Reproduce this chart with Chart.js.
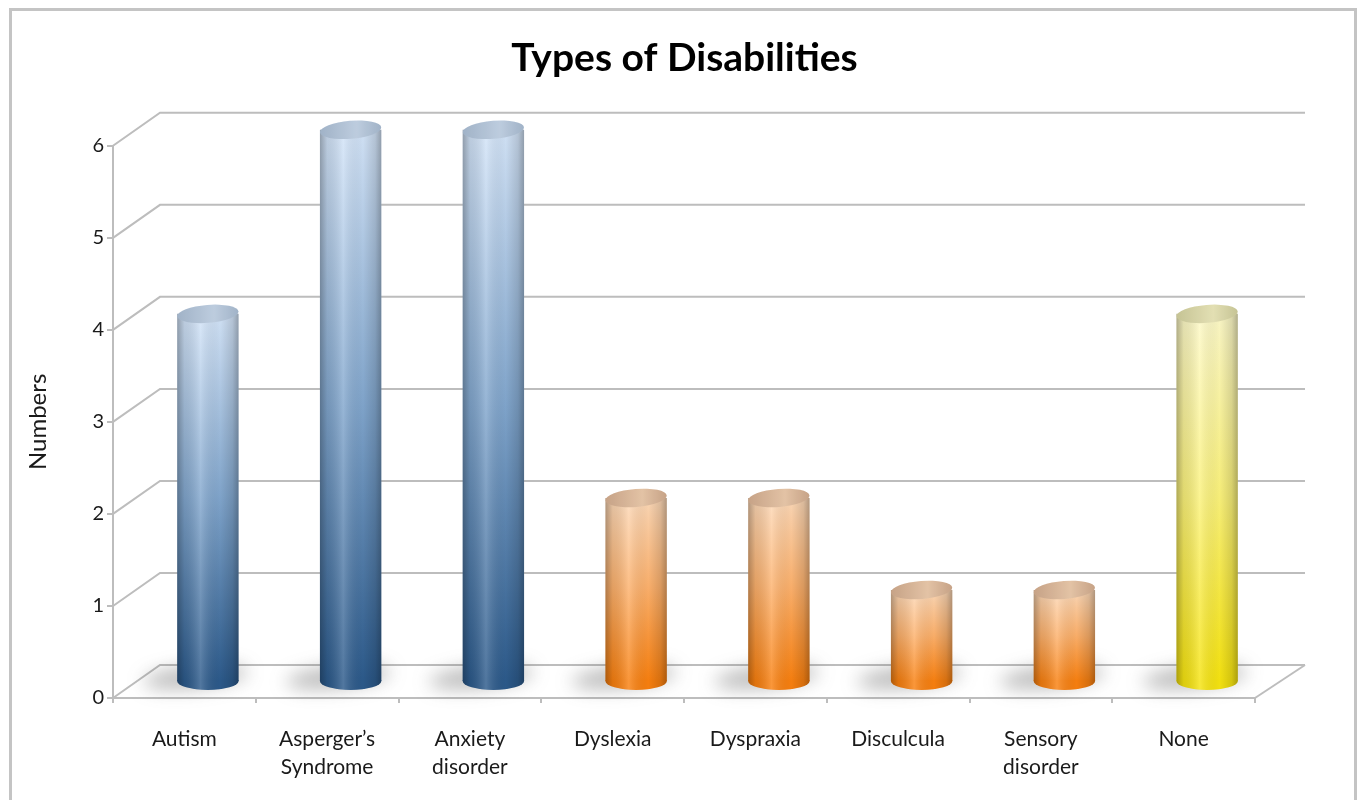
<!DOCTYPE html>
<html>
<head>
<meta charset="utf-8">
<script src="https://cdn.jsdelivr.net/npm/chart.js@4.4.0/dist/chart.umd.min.js"></script>
<style>
  html, body { margin: 0; padding: 0; background: #ffffff; }
  #wrap { width: 1358px; height: 800px; position: relative; }
</style>
</head>
<body>
<div id="wrap"><canvas id="c" width="1358" height="800"></canvas></div>
<script>
// ---- data ----
const categories = ["Autism", ["Asperger\u2019s", "Syndrome"], ["Anxiety", "disorder"], "Dyslexia", "Dyspraxia", "Disculcula", ["Sensory", "disorder"], "None"];
const values = [4, 6, 6, 2, 2, 1, 1, 4];
const colorGroup = ["blue", "blue", "blue", "orange", "orange", "orange", "orange", "yellow"];
const yTicks = [0, 1, 2, 3, 4, 5, 6];
const chartTitle = "Types of Disabilities";
const yTitle = "Numbers";

// ---- styles ----
const PALETTE = {
  blue:   { top: "#d3e4f8", mid: "#81a6cd", bottom: "#2c5a8b", cap: "#b3c7de" },
  orange: { top: "#fdd9b8", mid: "#fdb06a", bottom: "#f9800f", cap: "#ddb596" },
  yellow: { top: "#fdf9c8", mid: "#fbf27a", bottom: "#f6e410", cap: "#dcdaa6" }
};
const BAR_DX = 23.5, BAR_DY = -16;   // bar plane offset (half depth)
const WALL_DX = 47, WALL_DY = -33;   // back wall offset
const GRID_COLOR = "#bdbdbd";
const FONT = "Lato, 'Liberation Sans', sans-serif";

function barGradient(ctx) {
  const chart = ctx.chart;
  const i = ctx.dataIndex;
  const p = PALETTE[colorGroup[i]];
  const ys = chart.scales && chart.scales.y;
  if (!ys || !chart.chartArea) return p.mid;
  const top = ys.getPixelForValue(values[i]);
  const bot = ys.getPixelForValue(0);
  const g = chart.ctx.createLinearGradient(0, top, 0, bot);
  g.addColorStop(0, p.top);
  g.addColorStop(0.5, p.mid);
  g.addColorStop(1, p.bottom);
  return g;
}

const frame3d = {
  id: "frame3d",
  beforeDraw(chart) {
    const ctx = chart.ctx;
    ctx.save();
    ctx.strokeStyle = "#c4c4c4";
    ctx.lineWidth = 3;
    ctx.strokeRect(10.5, 9.5, chart.width - 13, chart.height + 20);
    ctx.restore();
  },
  beforeDatasetsDraw(chart) {
    const ctx = chart.ctx;
    const ys = chart.scales.y;
    const area = chart.chartArea;
    const wallRight = area.right + WALL_DX + 3;
    ctx.save();
    ctx.strokeStyle = GRID_COLOR;
    ctx.lineWidth = 2;
    yTicks.forEach(v => {
      const fy = ys.getPixelForValue(v);
      ctx.beginPath();
      ctx.moveTo(area.left, fy);
      ctx.lineTo(area.left + WALL_DX, fy + WALL_DY);
      ctx.lineTo(wallRight, fy + WALL_DY);
      ctx.stroke();
    });
    const by = ys.getPixelForValue(0);
    ctx.beginPath();
    ctx.moveTo(area.right, by);
    ctx.lineTo(wallRight, by + WALL_DY);
    ctx.stroke();
    ctx.restore();

    // floor shadows
    const meta = chart.getDatasetMeta(0);
    ctx.save();
    ctx.translate(BAR_DX, BAR_DY);
    meta.data.forEach(bar => {
      const w = bar.width;
      ctx.save();
      ctx.filter = "blur(9px)";
      ctx.fillStyle = "rgba(80,80,80,0.38)";
      ctx.beginPath();
      ctx.ellipse(bar.x - w * 0.2, bar.base - 4, w * 0.85, 11, -0.1, 0, Math.PI * 2);
      ctx.fill();
      ctx.restore();
    });
    ctx.save();
  },
  afterDatasetsDraw(chart) {
    const ctx = chart.ctx;
    ctx.restore(); // inner
    const meta = chart.getDatasetMeta(0);
    meta.data.forEach((bar, i) => {
      const p = PALETTE[colorGroup[i]];
      const w = bar.width, rx = w / 2, ry = 9;
      const l = bar.x - rx, r = bar.x + rx;
      // bottom half ellipse
      ctx.fillStyle = p.bottom;
      ctx.beginPath();
      ctx.moveTo(r, bar.base - 1);
      ctx.ellipse(bar.x, bar.base, rx, ry, 0, 0, Math.PI, false);
      ctx.lineTo(l, bar.base - 1);
      ctx.closePath();
      ctx.fill();
      // horizontal shading across body
      const hg = ctx.createLinearGradient(l, 0, r, 0);
      hg.addColorStop(0, "rgba(0,0,0,0.30)");
      hg.addColorStop(0.12, "rgba(0,0,0,0.10)");
      hg.addColorStop(0.38, "rgba(255,255,255,0.18)");
      hg.addColorStop(0.7, "rgba(0,0,0,0.02)");
      hg.addColorStop(0.9, "rgba(0,0,0,0.14)");
      hg.addColorStop(1, "rgba(0,0,0,0.30)");
      ctx.fillStyle = hg;
      ctx.beginPath();
      ctx.moveTo(l, bar.y);
      ctx.lineTo(r, bar.y);
      ctx.lineTo(r, bar.base);
      ctx.ellipse(bar.x, bar.base, rx, ry, 0, 0, Math.PI, false);
      ctx.closePath();
      ctx.fill();
      // top cap
      const cg = ctx.createLinearGradient(l, 0, r, 0);
      cg.addColorStop(0, p.cap);
      cg.addColorStop(0.6, p.top);
      cg.addColorStop(1, p.cap);
      ctx.fillStyle = cg;
      ctx.beginPath();
      ctx.ellipse(bar.x, bar.y, rx, ry, -0.08, 0, Math.PI * 2);
      ctx.fill();
      ctx.fillStyle = "rgba(0,0,0,0.10)";
      ctx.beginPath();
      ctx.ellipse(bar.x, bar.y, rx, ry, -0.08, 0, Math.PI * 2);
      ctx.fill();
    });
    ctx.restore(); // outer translation
  }
};

new Chart(document.getElementById("c"), {
  type: "bar",
  data: {
    labels: categories,
    datasets: [{
      data: values,
      backgroundColor: barGradient,
      borderWidth: 0,
      categoryPercentage: 1.0,
      barPercentage: 0.43,
      clip: false
    }]
  },
  options: {
    responsive: false,
    animation: false,
    layout: { padding: { left: 11, right: 0, top: 0, bottom: 0 } },
    plugins: {
      legend: { display: false },
      tooltip: { enabled: false },
      title: {
        display: true,
        text: chartTitle,
        color: "#000000",
        font: { family: FONT, size: 39, weight: "bold", lineHeight: 1.2 },
        padding: { top: 35, bottom: 64 }
      }
    },
    scales: {
      x: {
        grid: { drawOnChartArea: false, drawTicks: true, tickLength: 5, color: GRID_COLOR, lineWidth: 2 },
        border: { display: true, color: GRID_COLOR, width: 2 },
        ticks: {
          color: "#1a1a1a",
          font: { family: FONT, size: 21, lineHeight: 1.35 },
          padding: 22,
          maxRotation: 0,
          autoSkip: false
        },
        afterFit(scale) { scale.height = 102; }
      },
      y: {
        min: 0, max: 6,
        grid: { drawOnChartArea: false, drawTicks: true, tickLength: 6, color: GRID_COLOR, lineWidth: 2 },
        border: { display: true, color: GRID_COLOR, width: 2 },
        ticks: {
          stepSize: 1,
          color: "#1a1a1a",
          font: { family: FONT, size: 20 },
          padding: 3
        },
        title: {
          display: true,
          text: yTitle,
          color: "#1a1a1a",
          font: { family: FONT, size: 24, lineHeight: 1.2 },
          padding: { top: 13, bottom: 0 }
        },
        afterFit(scale) { scale.width = 102; }
      },
      yRightSpace: {
        type: "linear",
        position: "right",
        display: true,
        grid: { display: false },
        border: { display: false },
        ticks: { display: false },
        afterFit(scale) { scale.width = 103; }
      }
    }
  },
  plugins: [frame3d]
});
</script>
</body>
</html>
